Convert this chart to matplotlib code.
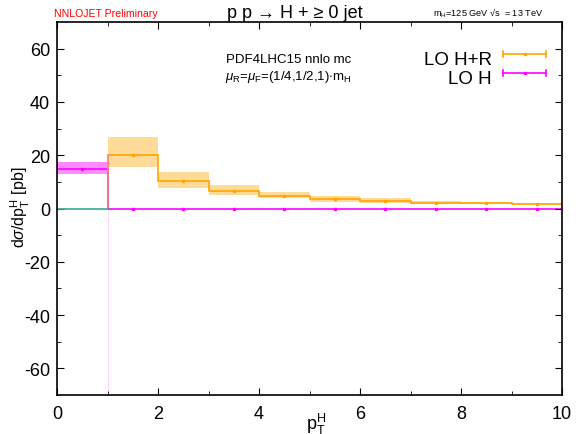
import numpy as np
import matplotlib
matplotlib.use("Agg")
import matplotlib.pyplot as plt
from matplotlib.lines import Line2D

plt.rcParams['font.family'] = ['Liberation Sans', 'DejaVu Sans']
plt.rcParams['mathtext.fontset'] = 'custom'
plt.rcParams['mathtext.rm'] = 'Liberation Sans'
plt.rcParams['mathtext.it'] = 'Liberation Sans:italic'
plt.rcParams['axes.unicode_minus'] = False

# bin edges (pT^H)
edges = [0, 1, 2, 3, 4, 5, 6, 7, 8, 9, 10]

# LO H+R (bins 1..10)
hr_val = [20.1, 10.2, 6.6, 4.7, 3.5, 2.7, 2.2, 2.0, 1.75]
hr_lo = [15.4, 7.8, 5.0, 3.9, 2.6, 2.0, 1.8, 1.6, 1.5]
hr_hi = [26.9, 13.6, 8.7, 6.1, 4.7, 3.9, 2.7, 2.4, 2.1]

# LO H (bin 0..1 only, zero beyond)
h_val = [15.0, 0, 0, 0, 0, 0, 0, 0, 0, 0]
h_lo = [12.9, 0, 0, 0, 0, 0, 0, 0, 0, 0]
h_hi = [17.3, 0, 0, 0, 0, 0, 0, 0, 0, 0]

orange = '#ffa500'
magenta = '#ff00ff'

W, H = 576, 435
fig = plt.figure(figsize=(W / 100, H / 100), dpi=100)
ax = fig.add_axes([57 / W, 1 - 396 / H, (562 - 57) / W, (396 - 23) / H])

e = np.array(edges, dtype=float)
centers = (e[:-1] + e[1:]) / 2

# LO H bands and line
for i in range(len(h_val)):
    if h_hi[i] > h_lo[i]:
        ax.fill_between([e[i], e[i + 1]], h_lo[i], h_hi[i], color=magenta, alpha=0.45, lw=0)
ax.stairs(h_val, e, color=magenta, lw=1.2, baseline=None)
ax.plot(centers, h_val, 's', color=magenta, ms=2)

# LO H+R bands and line
for i in range(len(hr_val)):
    ax.fill_between([e[i + 1], e[i + 2]], hr_lo[i], hr_hi[i], color=orange, alpha=0.4, lw=0)
ax.stairs(hr_val, e[1:], color=orange, lw=1.2, baseline=None)
ax.plot(centers[1:], hr_val, 's', color=orange, ms=2)
ax.plot([1, 1], [0, hr_val[0]], color='#ff7f6f', lw=1.2)
ax.plot([0, 1], [0, 0], color='#3aa89a', lw=1.2)
ax.plot([1, 1], [-70, 0], color=magenta, lw=0.6, alpha=0.2)

ax.set_xlim(0, 10)
ax.set_ylim(-70, 70)
ax.set_xticks([0, 2, 4, 6, 8, 10])
ax.set_xticks([1, 3, 5, 7, 9], minor=True)
ax.set_yticks([-60, -40, -20, 0, 20, 40, 60])
ax.set_yticks([-50, -30, -10, 10, 30, 50], minor=True)
ax.tick_params(which='both', direction='in', top=True, right=True, labelsize=13)
ax.tick_params(axis='y', pad=5)
ax.tick_params(axis='x', pad=7)
ax.tick_params(which='major', length=5)
ax.tick_params(which='minor', length=3)
for s in ax.spines.values():
    s.set_linewidth(1.2)

fig.text(316 / W, 1 - 424 / H, r'p$_\mathregular{T}^\mathregular{H}$', fontsize=13, ha='center', va='center')
fig.text(20 / W, 1 - 207 / H, r'd$\sigma$/dp$_\mathregular{T}^\mathregular{H}$ [pb]', fontsize=11.5,
         ha='center', va='center', rotation=90)

fig.text(158 / W, 1 - 14 / H, 'NNLOJET Preliminary', color='red', fontsize=7.6, ha='right', va='center')
fig.text(295 / W, 1 - 13 / H, 'p p \u2192 H + \u2265 0 jet', fontsize=13, ha='center', va='center')
fig.text(543 / W, 1 - 13 / H, 'm$_\\mathregular{H}$=125 GeV \u221as  = 13 TeV', fontsize=6.6, ha='right', va='center')

fig.text(226 / W, 1 - 63 / H, 'PDF4LHC15 nnlo mc', fontsize=9.5, ha='left', va='baseline')
fig.text(225 / W, 1 - 80 / H, r'$\mu_\mathregular{R}$=$\mu_\mathregular{F}$=(1/4,1/2,1)$\cdot$m$_\mathregular{H}$',
         fontsize=9.5, ha='left', va='baseline')

# legend-like keys
labels = ['LO H+R', 'LO H']
colors = [orange, magenta]
text_y = [65, 84]
line_y = [55, 74]
for lab, c, ty, ly in zip(labels, colors, text_y, line_y):
    fig.text(492 / W, 1 - ty / H, lab, fontsize=13.5, ha='right', va='baseline')
    yy = 1 - ly / H
    x0, x1 = 503 / W, 546 / W
    fig.add_artist(Line2D([x0, x1], [yy, yy], color=c, lw=1.2, transform=fig.transFigure))
    fig.add_artist(Line2D([x0, x0], [yy - 0.007, yy + 0.007], color=c, lw=1.2, transform=fig.transFigure))
    fig.add_artist(Line2D([x1, x1], [yy - 0.007, yy + 0.007], color=c, lw=1.2, transform=fig.transFigure))
    fig.add_artist(Line2D([(x0 + x1) / 2], [yy], marker='s', ms=2, color=c, transform=fig.transFigure))

fig.savefig('out.png', dpi=100)
